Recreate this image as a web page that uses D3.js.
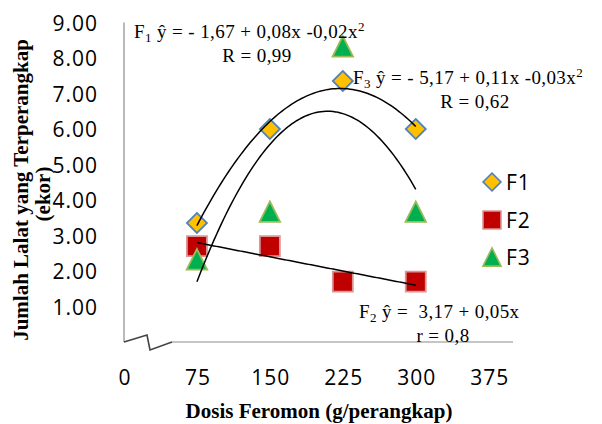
<!DOCTYPE html>
<html>
<head>
<meta charset="utf-8">
<script src="https://cdn.jsdelivr.net/npm/d3@7"></script>
<style>
  body { margin:0; background:#fff; }
  svg { display:block; }
  .tick text { font-family:"Open Sans", sans-serif; font-size:21px; letter-spacing:1px; fill:#000; }
  .legend text { font-family:"Open Sans", sans-serif; font-size:21px; letter-spacing:1px; fill:#000; }
  .note { font-family:"Liberation Serif","Times New Roman",serif; font-size:19px; letter-spacing:0.4px; fill:#000; }
  .title { font-family:"Liberation Serif","Times New Roman",serif; font-size:21px; font-weight:bold; fill:#000; }
</style>
</head>
<body>
<div class="chart"></div>
<script>
const doses = [75, 150, 225, 300];
const f1 = [3.35, 6.00, 7.35, 6.00];
const f2 = [2.70, 2.70, 1.70, 1.70];
const f3 = [2.33, 3.67, 8.33, 3.67];
const xTicks = [0, 75, 150, 225, 300, 375];
const yTicks = [1, 2, 3, 4, 5, 6, 7, 8, 9];
const seriesNames = ['F1', 'F2', 'F3'];

const width = 602, height = 424;

const svg = d3.select('.chart').append('svg')
    .attr('width', width)
    .attr('height', height);

const xScale = d3.scaleLinear().domain([0, 400]).range([124, 513]);
const yScale = d3.scaleLinear().domain([0, 9]).range([342, 22.5]);

// least squares polynomial (like the excel trendline)
function polyFit(xs, ys, deg)
{
    const n = deg + 1;
    const u = x => (x - 187.5) / 75;
    const A = d3.range(n).map(i => d3.range(n).map(j => d3.sum(xs, x => Math.pow(u(x), i + j))));
    const b = d3.range(n).map(i => d3.sum(xs.map((x, k) => Math.pow(u(x), i) * ys[k])));
    for (let c = 0; c < n; c++) {
        for (let r = c + 1; r < n; r++) {
            const f = A[r][c] / A[c][c];
            for (let k = c; k < n; k++) A[r][k] -= f * A[c][k];
            b[r] -= f * b[c];
        }
    }
    const coef = new Array(n).fill(0);
    for (let r = n - 1; r >= 0; r--) {
        let s = b[r];
        for (let k = r + 1; k < n; k++) s -= A[r][k] * coef[k];
        coef[r] = s / A[r][r];
    }
    return x => coef.reduce((acc, c, i) => acc + c * Math.pow(u(x), i), 0);
}

// triangle centred on its box, like excel markers
const triangle = {
    draw(ctx, size) {
        const s = Math.sqrt(size);
        ctx.moveTo(0, -s / 2);
        ctx.lineTo(s / 2, s / 2);
        ctx.lineTo(-s / 2, s / 2);
        ctx.closePath();
    }
};

const styles = [
    { type: d3.symbolSquare, size: 200, rotate: 45, fill: '#FFC000', stroke: '#4F81BD' },
    { type: d3.symbolSquare, size: 400, rotate: 0, fill: '#C00000', stroke: '#D99694' },
    { type: triangle, size: 420, rotate: 0, fill: '#00B050', stroke: '#9BBB59' }
];
const legendSizes = [160, 324, 330];

// axes (labels only, lines drawn below)
const yAxis = d3.axisLeft(yScale).tickValues(yTicks).tickFormat(d3.format('.2f')).tickSize(0).tickPadding(0);
const xAxis = d3.axisBottom(xScale).tickValues(xTicks).tickFormat(d3.format('d')).tickSize(0).tickPadding(0);

const gy = svg.append('g')
    .attr('transform', 'translate(98,0)')
    .call(yAxis);

const gx = svg.append('g')
    .attr('transform', 'translate(0,385)')
    .call(xAxis);

svg.selectAll('.domain').remove();
gy.selectAll('.tick text').attr('dy', '0.36em');
gx.selectAll('.tick text').attr('dy', 0).attr('dx', '0.5');

const axisColor = '#8C8C8C';
svg.append('line')
    .attr('x1', xScale(0)).attr('x2', xScale(0))
    .attr('y1', yScale(9)).attr('y2', yScale(0))
    .attr('stroke', axisColor).attr('stroke-width', 1.2);

svg.append('line')
    .attr('x1', 172).attr('x2', xScale(400))
    .attr('y1', yScale(0)).attr('y2', yScale(0))
    .attr('stroke', axisColor).attr('stroke-width', 1.2);

// axis break
svg.append('path')
    .attr('d', `M${xScale(0)},${yScale(0)} L147,335 L150,350 L172,342`)
    .attr('fill', 'none')
    .attr('stroke', '#444')
    .attr('stroke-width', 1.6);

// markers
const series = [f1, f2, f3];
series.forEach((vals, i) => {
    const st = styles[i];
    svg.append('g').selectAll('path')
        .data(doses.map((d, k) => ({ x: d, y: vals[k] })))
        .enter()
        .append('path')
        .attr('d', d3.symbol().type(st.type).size(st.size))
        .attr('transform', d => `translate(${xScale(d.x)},${yScale(d.y)}) rotate(${st.rotate})`)
        .attr('fill', st.fill)
        .attr('stroke', st.stroke)
        .attr('stroke-width', 1.8);
});

// trend lines
const trends = [polyFit(doses, f1, 2), polyFit(doses, f2, 1), polyFit(doses, f3, 2)];
const xs = d3.range(75, 300.01, 2.5);
const line = d3.line().x(d => xScale(d[0])).y(d => yScale(d[1]));

trends.forEach(fn => {
    svg.append('path')
        .attr('d', line(xs.map(x => [x, fn(x)])))
        .attr('fill', 'none')
        .attr('stroke', '#000')
        .attr('stroke-width', 1.5);
});

// legend
const legend = svg.append('g').attr('class', 'legend');
const legendY = [182, 220, 257];
seriesNames.forEach((name, i) => {
    const st = styles[i];
    legend.append('path')
        .attr('d', d3.symbol().type(st.type).size(legendSizes[i]))
        .attr('transform', `translate(492,${legendY[i]}) rotate(${st.rotate})`)
        .attr('fill', st.fill)
        .attr('stroke', st.stroke)
        .attr('stroke-width', 1.6);
    legend.append('text')
        .attr('x', 506)
        .attr('y', legendY[i])
        .attr('dy', '0.36em')
        .text(name);
});

// equations
function equation(x, y, sub, body, sup)
{
    const t = svg.append('text').attr('class', 'note').attr('x', x).attr('y', y).attr('xml:space', 'preserve');
    t.append('tspan').text('F');
    t.append('tspan').attr('font-size', 13).attr('dy', 4).text(sub);
    t.append('tspan').attr('dy', -4).text(body);
    if (sup) t.append('tspan').attr('font-size', 13).attr('dy', -7).text(sup);
}

equation(134, 38, '1', ' ŷ = - 1,67 + 0,08x -0,02x', '2');
svg.append('text').attr('class', 'note').attr('x', 257).attr('y', 62).attr('text-anchor', 'middle').text('R = 0,99');

equation(353, 84, '3', ' ŷ = - 5,17 + 0,11x -0,03x', '2');
svg.append('text').attr('class', 'note').attr('x', 475).attr('y', 108).attr('text-anchor', 'middle').text('R = 0,62');

equation(359, 318, '2', ' ŷ =  3,17 + 0,05x', null);
svg.append('text').attr('class', 'note').attr('x', 443).attr('y', 342).attr('text-anchor', 'middle').text('r = 0,8');

// titles
svg.append('text')
    .attr('class', 'title')
    .attr('transform', 'translate(28,190) rotate(-90)')
    .attr('text-anchor', 'middle')
    .text('Jumlah Lalat yang Terperangkap');

svg.append('text')
    .attr('class', 'title')
    .attr('transform', 'translate(49.5,194) rotate(-90)')
    .attr('text-anchor', 'middle')
    .text('(ekor)');

svg.append('text')
    .attr('class', 'title')
    .attr('x', 319)
    .attr('y', 418)
    .attr('text-anchor', 'middle')
    .text('Dosis Feromon (g/perangkap)');
</script>
</body>
</html>
